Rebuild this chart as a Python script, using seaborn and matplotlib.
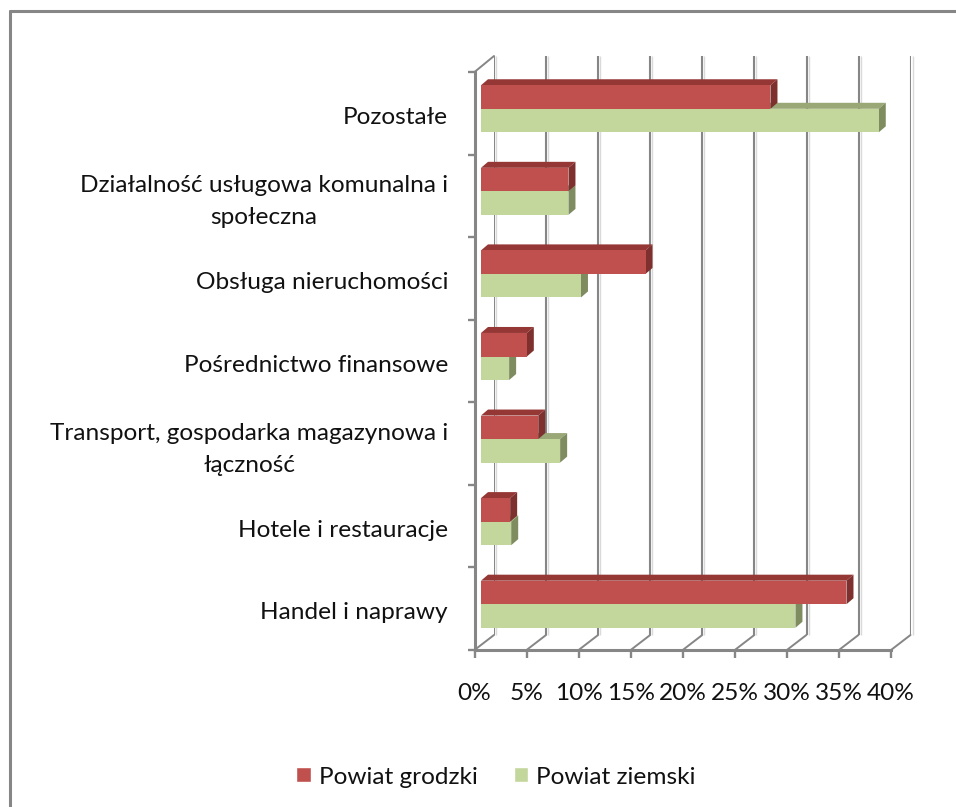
import matplotlib
matplotlib.use('Agg')
import matplotlib.pyplot as plt
import matplotlib.transforms as mtransforms
from matplotlib.lines import Line2D
from matplotlib.patches import Polygon
import pandas as pd
import seaborn as sns

# Data
categories = [
    'Pozostałe',
    'Działalność usługowa komunalna i\nspołeczna',
    'Obsługa nieruchomości',
    'Pośrednictwo finansowe',
    'Transport, gospodarka magazynowa i\nłączność',
    'Hotele i restauracje',
    'Handel i naprawy',
]
grodzki = [27.8, 8.4, 15.8, 4.4, 5.5, 2.8, 35.1]
ziemski = [38.2, 8.4, 9.6, 2.7, 7.6, 2.9, 30.2]
series_names = ['Powiat grodzki', 'Powiat ziemski']
x_ticks = [0, 5, 10, 15, 20, 25, 30, 35, 40]
x_labels = ['0%', '5%', '10%', '15%', '20%', '25%', '30%', '35%', '40%']

W, H = 956, 807
GRID = '#868686'
RED, GREEN = '#C0504D', '#C3D69B'
RED_TOP, RED_SIDE = '#953735', '#7E302E'
GREEN_TOP, GREEN_SIDE = '#9AA777', '#7F8C5F'
FONT_SIZE = 17.6


def px_axes(fig, left, top, right, bottom):
    # axes placed by pixel edges, y counted from the top of the image
    ax = fig.add_axes([left / W, 1 - bottom / H, (right - left) / W, (bottom - top) / H])
    ax.set_xlim(0, 40)
    ax.set_ylim(len(categories) - 0.5, -0.5)
    ax.patch.set_alpha(0)
    return ax


sns.set_theme(style='white')
plt.rcParams['font.family'] = ['Lato', 'DejaVu Sans']

fig = plt.figure(figsize=(W / 100, H / 100), dpi=100)

# Outer chart border, only top and left fall inside the image
fig.add_artist(Line2D([10 / W, 10 / W], [0, 1 - 11 / H], color=GRID, lw=2.2))
fig.add_artist(Line2D([10 / W, 1], [1 - 11 / H, 1 - 11 / H], color=GRID, lw=2.2))

# Back wall with the gridlines and their soft shadow
ax_back = px_axes(fig, 494, 56, 910.7, 635)
ax_back.set_xticks(x_ticks)
ax_back.set_yticks([])
ax_back.tick_params(labelbottom=False, length=0)
ax_back.grid(axis='x', color=GRID, lw=1.5)
sns.despine(ax=ax_back, left=True, bottom=True)
shadow = mtransforms.offset_copy(ax_back.transData, fig=fig, x=2, y=0, units='dots')
ax_back.vlines(x_ticks, -0.5, len(categories) - 0.5, color='#DADADA', lw=1, transform=shadow, zorder=0.5,
               clip_on=False)

# Front plane carrying the axes and their labels
ax_front = px_axes(fig, 474.5, 72, 891, 650)
sns.despine(ax=ax_front)
ax_front.spines['left'].set(color=GRID, lw=2.2)
ax_front.spines['bottom'].set(color=GRID, lw=2.2)
ax_front.set_xticks(x_ticks, x_labels, fontsize=FONT_SIZE)
ax_front.set_yticks([i - 0.5 for i in range(len(categories) + 1)], [''] * (len(categories) + 1))
ax_front.set_yticks(range(len(categories)), categories, minor=True, fontsize=FONT_SIZE, ha='right', ma='center',
                    linespacing=1.65)
ax_front.tick_params(axis='x', which='major', bottom=True, length=5.8, width=1.7, pad=18)
ax_front.tick_params(axis='y', which='major', left=True, length=5.4, width=1.7)
ax_front.tick_params(axis='y', which='minor', left=False, length=0, pad=19)
ax_front.tick_params(axis='both', which='both', color=GRID, labelcolor='#111111')
for label in ax_front.get_yticklabels(minor=True):
    # two line labels sit a little higher than the single line ones
    shift_px = 2 if '\n' not in label.get_text() else -2
    label_shift = mtransforms.ScaledTranslation(0, -shift_px / 100, fig.dpi_scale_trans)
    label.set_transform(label.get_transform() + label_shift)

# Floor and side wall edges joining front plane and back wall
to_back = mtransforms.offset_copy(ax_front.transData, fig=fig, x=19.5, y=15, units='dots')
for t in x_ticks:
    p0 = ax_front.transData.transform((t, len(categories) - 0.5))
    p1 = to_back.transform((t, len(categories) - 0.5))
    fig.add_artist(Line2D([p0[0] / W, p1[0] / W], [p0[1] / H, p1[1] / H], color=GRID, lw=1.4))
p0 = ax_front.transData.transform((0, -0.5))
fig.add_artist(Line2D([p0[0] / W, (p0[0] + 19.5) / W], [p0[1] / H, (p0[1] + 16) / H], color=GRID, lw=1.4))

# Bars
df = pd.DataFrame({
    'kategoria': categories * 2,
    'udzial': grodzki + ziemski,
    'powiat': [series_names[0]] * len(categories) + [series_names[1]] * len(categories),
})
ax_bar = px_axes(fig, 481, 67.5, 897.5, 645.5)
sns.barplot(data=df, y='kategoria', x='udzial', hue='powiat', order=categories,
            palette=[RED, GREEN], width=0.57, saturation=1, ax=ax_bar)
ax_bar.set_xlim(0, 40)
ax_bar.set_ylim(len(categories) - 0.5, -0.5)
ax_bar.axis('off')

# Top and side faces for the 3D look, green series underneath the red one
faces = [(ax_bar.containers[0], RED_TOP, RED_SIDE, 6), (ax_bar.containers[1], GREEN_TOP, GREEN_SIDE, 4)]
for bars, top_col, side_col, z in faces:
    for bar in bars:
        bar.set_zorder(z + 1)
        bar.set_edgecolor('none')
        x0, x1 = bar.get_x(), bar.get_x() + bar.get_width()
        y0, y1 = bar.get_y(), bar.get_y() + bar.get_height()
        (ax0, ay0), (ax1, ay1) = ax_bar.transData.transform([(x0, y0), (x1, y1)])
        dx, dy = 7, 6
        ax_bar.add_patch(Polygon([(ax0, ay0), (ax1, ay0), (ax1 + dx, ay0 + dy), (ax0 + dx, ay0 + dy)],
                                 transform=None, fc=top_col, ec='none', zorder=z, clip_on=False))
        ax_bar.add_patch(Polygon([(ax1, ay0), (ax1 + dx, ay0 + dy), (ax1 + dx, ay1 + dy), (ax1, ay1)],
                                 transform=None, fc=side_col, ec='none', zorder=z, clip_on=False))

# Legend under the plot
sns.move_legend(ax_bar, 'center', bbox_to_anchor=(496 / W, 1 - 777 / H), bbox_transform=fig.transFigure,
                ncol=2, title=None, frameon=False, fontsize=FONT_SIZE,
                labelcolor='#111111', handlelength=0.58, handleheight=0.58, handletextpad=0.33,
                columnspacing=1.48)

plt.savefig('out.png', dpi=100)
plt.close()
